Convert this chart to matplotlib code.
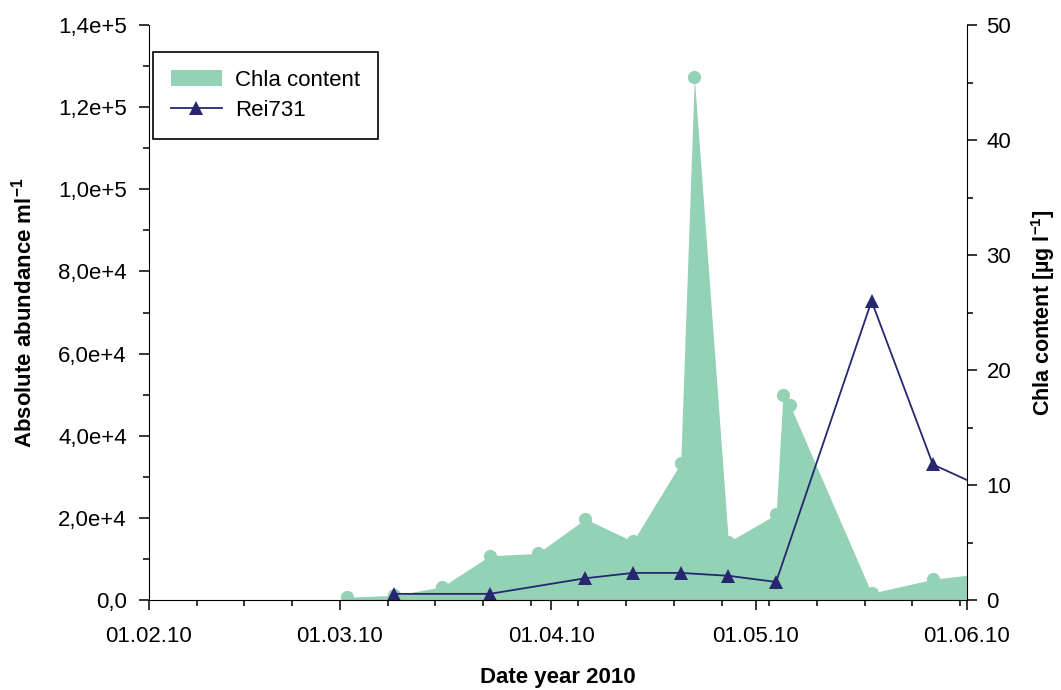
"""Chla content and Rei731 abundance over spring 2010, on twin y axes."""

import datetime as dt

import matplotlib
matplotlib.use("Agg")
import matplotlib.dates as mdates
import matplotlib.pyplot as plt
from matplotlib.lines import Line2D
from matplotlib.patches import Patch
from matplotlib.ticker import FuncFormatter, MultipleLocator

plt.rcParams["font.family"] = ["Liberation Sans", "DejaVu Sans"]
plt.rcParams["mathtext.fontset"] = "custom"
plt.rcParams["mathtext.rm"] = "Liberation Sans"
plt.rcParams["mathtext.bf"] = "Liberation Sans:bold"

GREEN = "#94d2b6"
NAVY = "#27276f"

# Chla content [ug/l], sampling dates (last one lies just past the shown range)
chla_dates = ["2010-03-02", "2010-03-09", "2010-03-16", "2010-03-23",
              "2010-03-30", "2010-04-06", "2010-04-13", "2010-04-20",
              "2010-04-22", "2010-04-27", "2010-05-04", "2010-05-05",
              "2010-05-06", "2010-05-18", "2010-05-27", "2010-06-03"]
chla_values = [0.25, 0.4, 1.15, 3.85, 4.05, 7.05, 5.1, 11.9,
               45.5, 5.05, 7.45, 17.8, 17.0, 0.6, 1.8, 2.3]

# Rei731 absolute abundance [per ml]
rei_dates = ["2010-03-09", "2010-03-23", "2010-04-06", "2010-04-13",
             "2010-04-20", "2010-04-27", "2010-05-04", "2010-05-18",
             "2010-05-27", "2010-06-03"]
rei_values = [1500, 1500, 5300, 6600, 6600, 5900, 4400, 72800, 33000, 27700]


def _to_dates(strings):
    return [dt.datetime.strptime(s, "%Y-%m-%d") for s in strings]


def _sci_comma(v, pos):
    """1.4e5 -> '1,4e+5', zero -> '0,0'."""
    if v == 0:
        return "0,0"
    mant, exp = f"{v:.1e}".split("e")
    return f"{mant.replace('.', ',')}e+{int(exp)}"


chla_x = _to_dates(chla_dates)
rei_x = _to_dates(rei_dates)

fig = plt.figure(figsize=(10.61, 6.9), dpi=100)
ax = fig.add_axes([0.1404, 0.1304, 0.7710, 0.8333])
ax2 = ax.twinx()

# green area on the right axis, drawn underneath the abundance line
ax2.fill_between(chla_x, chla_values, 0, color=GREEN, linewidth=0)
ax2.plot(chla_x, chla_values, linestyle="none", marker="o",
         markersize=8.5, color=GREEN)

ax.plot(rei_x, rei_values, color=NAVY, linewidth=1.3, marker="^",
        markersize=10.5, markeredgewidth=0)
ax.set_zorder(ax2.get_zorder() + 1)
ax.patch.set_visible(False)

# x axis: months labelled, weekly minor ticks (Feb 1 2010 was a Monday)
ax.set_xlim(dt.datetime(2010, 2, 1), dt.datetime(2010, 6, 1))
ax.xaxis.set_major_locator(mdates.MonthLocator())
ax.xaxis.set_major_formatter(mdates.DateFormatter("%d.%m.%y"))
ax.xaxis.set_minor_locator(mdates.WeekdayLocator(byweekday=mdates.MO))

ax.set_ylim(0, 1.4e5)
ax.yaxis.set_major_locator(MultipleLocator(2e4))
ax.yaxis.set_minor_locator(MultipleLocator(1e4))
ax.yaxis.set_major_formatter(FuncFormatter(_sci_comma))

ax2.set_ylim(0, 50)
ax2.yaxis.set_major_locator(MultipleLocator(10))
ax2.yaxis.set_minor_locator(MultipleLocator(5))

for a in (ax, ax2):
    a.spines["top"].set_visible(False)
    a.tick_params(which="major", direction="out", length=7, width=1.1,
                  labelsize=16, pad=9)
    a.tick_params(which="minor", direction="out", length=4, width=1.1)
ax.spines["right"].set_visible(False)
ax2.spines["left"].set_visible(False)
ax2.spines["bottom"].set_visible(False)
ax.tick_params(axis="x", which="major", pad=12)
ax2.tick_params(axis="y", pad=7)

ax.set_xlabel("Date year 2010", fontsize=16, fontweight="bold")
ax.xaxis.set_label_coords(0.5, -0.117)
ax.set_ylabel(r"Absolute abundance ml$^{\mathbf{-1}}$", fontsize=16,
              fontweight="bold")
ax.yaxis.set_label_coords(-0.138, 0.5)
ax2.set_ylabel(r"Chla content [µg l$^{\mathbf{-1}}$]", fontsize=15.5,
               fontweight="bold")
ax2.yaxis.set_label_coords(1.076, 0.5)

handles = [
    Patch(facecolor=GREEN, edgecolor="none", label="Chla content"),
    Line2D([], [], color=NAVY, linewidth=1.3, marker="^", markersize=10.5,
           markeredgewidth=0, label="Rei731"),
]
leg = ax.legend(handles=handles, loc="upper left",
                bbox_to_anchor=(0.005, 0.953), borderaxespad=0,
                fontsize=16, frameon=True, fancybox=False, framealpha=1,
                edgecolor="black", borderpad=0.8, labelspacing=0.4,
                handlelength=2.3, handletextpad=0.6)
leg.get_frame().set_linewidth(1.2)

fig.savefig("out.png", dpi=100)
